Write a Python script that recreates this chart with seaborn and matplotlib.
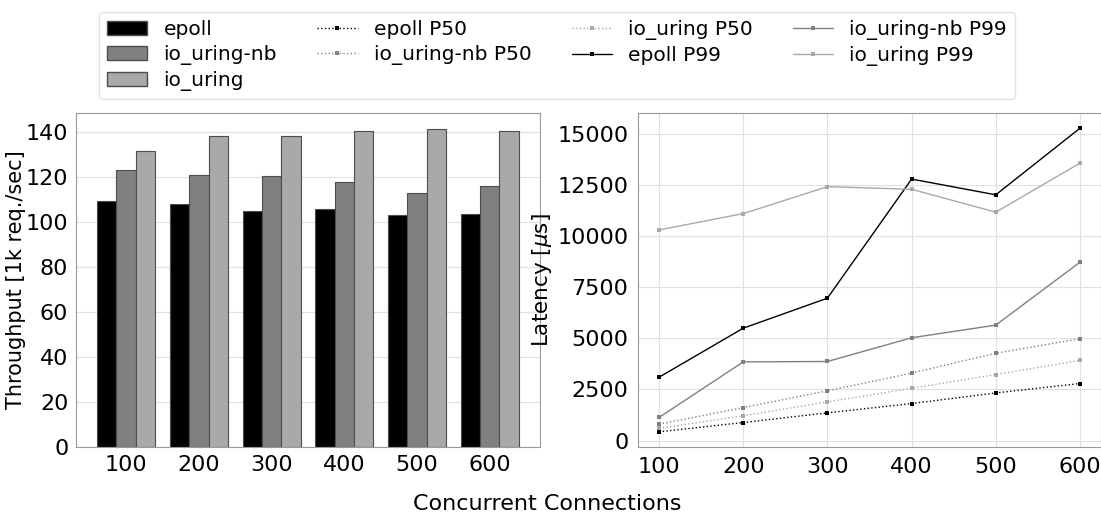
import pandas as pd
import numpy as np
import matplotlib
matplotlib.use("Agg")
import matplotlib.pyplot as plt
from matplotlib.patches import Patch
from matplotlib.ticker import MultipleLocator
import seaborn as sns

# ==============================
# DATA
# ==============================
connections = [100, 200, 300, 400, 500, 600]
systems = ["epoll", "io_uring-nb", "io_uring"]
colors = {"epoll": "black", "io_uring-nb": "grey", "io_uring": "darkgrey"}

throughput_epoll = [109.5, 108.1, 105.0, 105.9, 103.2, 103.5]
throughput_nb = [123.2, 121.0, 120.5, 117.7, 113.0, 116.2]
throughput_uring = [131.7, 138.3, 138.5, 140.5, 141.5, 140.5]

p50_epoll = [425, 880, 1355, 1810, 2330, 2790]
p50_nb = [800, 1615, 2430, 3300, 4275, 4980]
p50_uring = [600, 1210, 1890, 2560, 3230, 3920]

p99_epoll = [3100, 5500, 6970, 12800, 12030, 15290]
p99_nb = [1130, 3850, 3870, 5030, 5650, 8730]
p99_uring = [10310, 11110, 12430, 12300, 11180, 13580]


def build_frames():
    tp = pd.DataFrame({
        "conn": connections * 3,
        "system": sum([[s] * len(connections) for s in systems], []),
        "throughput": throughput_epoll + throughput_nb + throughput_uring,
    })
    lat = {
        ("epoll", "P50"): p50_epoll,
        ("io_uring-nb", "P50"): p50_nb,
        ("io_uring", "P50"): p50_uring,
        ("epoll", "P99"): p99_epoll,
        ("io_uring-nb", "P99"): p99_nb,
        ("io_uring", "P99"): p99_uring,
    }
    return tp, lat


def main():
    sns.set_style("whitegrid")
    plt.rcParams["font.family"] = ["DejaVu Sans"]
    plt.rcParams["font.size"] = 15
    for key in ("text.color", "axes.labelcolor", "xtick.color", "ytick.color"):
        plt.rcParams[key] = "black"

    tp, lat = build_frames()

    fig = plt.figure(figsize=(11.01, 5.15), dpi=100)
    ax1 = fig.add_axes([0.069, 0.132, 0.4214, 0.6485])
    ax2 = fig.add_axes([0.5795, 0.132, 0.4205, 0.6485])

    # throughput bars
    sns.barplot(data=tp, x="conn", y="throughput", hue="system",
                hue_order=systems, palette=colors, ax=ax1, legend=False,
                edgecolor="0.3", linewidth=0.8, saturation=1)
    ax1.autoscale(enable=True, axis="x")
    ax1.yaxis.set_major_locator(MultipleLocator(20))
    ax1.set_xlabel("")
    ax1.tick_params(labelsize=16, pad=2)
    ax1.set_ylabel("Throughput [1k req./sec]", fontsize=15, labelpad=0)

    # latency lines
    for (name, pct), vals in lat.items():
        sns.lineplot(x=connections, y=vals, ax=ax2, color=colors[name],
                     linestyle=":" if pct == "P50" else "-", linewidth=1,
                     marker="s", markersize=3, markeredgewidth=0,
                     label=f"{name} {pct}")
    ax2.yaxis.set_major_locator(MultipleLocator(2500))
    ax2.set_ylabel(r"Latency [$\mu$s]", fontsize=15.5, labelpad=2)
    ax2.set_xticks(connections)
    ax2.tick_params(labelsize=16)
    ax2.get_legend().remove()

    for ax in (ax1, ax2):
        for sp in ax.spines.values():
            sp.set_color("#999999")
        ax.grid(color="#e0e0e0", linewidth=0.8)
    ax1.xaxis.grid(False)

    bar_handles = [Patch(facecolor=colors[s], edgecolor="0.3", label=s) for s in systems]
    line_handles, line_labels = ax2.get_legend_handles_labels()
    handles = bar_handles + line_handles
    labels = systems + line_labels
    fig.legend(handles, labels, loc="upper center", ncol=4,
               bbox_to_anchor=(0.506, 0.997), fontsize=14.5,
               frameon=True, edgecolor="#dddddd", handlelength=2,
               columnspacing=2.0, borderpad=0.4, labelspacing=0.3)

    fig.text(0.497, 0.01, "Concurrent Connections", ha="center", fontsize=16)

    fig.savefig("out.png", dpi=100)


if __name__ == "__main__":
    main()
